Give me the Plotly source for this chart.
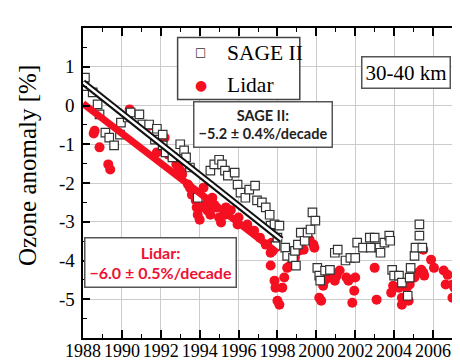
import plotly.graph_objects as go

# ---------------- data ----------------
sage_years = [1988.1, 1988.05, 1988.5, 1988.75, 1988.85, 1989.15, 1989.35, 1989.6, 1989.9, 1989.95,
              1990.3, 1990.45, 1990.9, 1991.05, 1991.4, 1991.7, 1991.8, 1992.1, 1992.1, 1992.25,
              1992.6, 1993.0, 1993.2, 1993.3, 1993.5, 1993.9, 1994.55, 1994.75, 1995.0, 1995.15,
              1995.3, 1995.45, 1995.8, 1995.95, 1996.1, 1996.35, 1996.55, 1996.85, 1996.95, 1997.2,
              1997.4, 1997.6, 1997.65, 1997.85, 1997.9, 1998.0, 1998.1, 1998.4, 1998.5, 1998.8,
              1998.9, 1998.95, 1999.05, 1999.2, 1999.4, 1999.55, 1999.7, 1999.8, 1999.95, 2000.05,
              2000.15, 2000.2, 2000.45, 2000.7, 2000.95, 2001.1, 2001.5, 2001.75, 2002.0, 2002.1,
              2002.4, 2002.75, 2002.8, 2003.0, 2003.25, 2003.3, 2003.5, 2003.75, 2003.8, 2003.9,
              2004.0, 2004.25, 2004.4, 2004.7, 2004.8, 2004.85, 2005.05, 2005.1, 2005.3, 2005.3,
              2005.45]
sage_vals = [0.72, 0.5, 0.34, 0.03, -0.23, -0.7, -0.83, -1.03, -0.75, -0.44,
             -0.31, -0.18, -0.23, -0.49, -0.49, -0.88, -0.6, -0.75, -1.03, -1.21,
             -1.34, -1.0, -1.16, -1.34, -1.6, -2.38, -1.68, -1.52, -1.4, -1.52,
             -1.68, -1.81, -1.73, -2.04, -2.25, -2.38, -2.17, -2.07, -2.45, -2.5,
             -2.63, -2.82, -3.1, -3.07, -3.62, -3.41, -3.1, -3.67, -3.88, -3.93,
             -3.75, -4.13, -3.59, -3.28, -3.49, -3.28, -3.2, -2.76, -2.97, -4.19,
             -4.39, -4.52, -4.26, -4.24, -3.8, -3.72, -4.0, -3.93, -3.93, -3.54,
             -3.67, -3.41, -3.67, -3.41, -3.67, -3.8, -3.54, -3.36, -3.49, -4.24,
             -4.39, -4.39, -4.57, -4.91, -4.44, -4.19, -3.88, -3.67, -3.36, -3.07,
             -3.67]

lidar_years = [1988.6, 1988.55, 1988.85, 1989.3, 1989.4, 1990.4, 1990.45, 1991.4, 1991.8, 1992.2,
               1992.4, 1992.8, 1992.9, 1993.0, 1993.1, 1993.4, 1993.5, 1993.6, 1993.8, 1993.85,
               1993.9, 1994.0, 1994.05, 1994.2, 1994.3, 1994.4, 1994.55, 1994.65, 1994.75, 1994.85,
               1995.0, 1995.1, 1995.3, 1995.35, 1995.6, 1995.95, 1996.0, 1996.45, 1996.8, 1997.1,
               1997.4, 1997.65, 1997.7, 1997.65, 1997.85, 1997.9, 1998.0, 1998.1, 1998.25, 1998.35,
               1998.5, 1998.65, 1998.9, 1999.1, 1999.35, 1999.4, 1999.65, 1999.85, 1999.9, 2000.15,
               2000.25, 2000.35, 2000.45, 2000.65, 2000.7, 2000.9, 2000.95, 2001.05, 2001.2, 2001.55,
               2001.65, 2001.85, 2001.95, 2002.0, 2003.0, 2003.1, 2003.85, 2003.95, 2004.25, 2004.4,
               2004.4, 2004.65, 2004.75, 2004.8, 2005.05, 2005.25, 2005.4, 2005.5, 2005.55, 2005.5,
               2005.9, 2006.05, 2006.55, 2006.75, 2006.65, 2007.0, 2007.1, 2007.0, 2007.4, 2007.55]
lidar_vals = [-0.65, -0.72, -1.08, -1.52, -1.65, -0.1, -0.2, -0.52, -1.21, -0.83,
              -1.27, -1.52, -1.6, -1.68, -1.78, -2.04, -2.12, -2.3, -2.45, -2.63,
              -2.82, -2.95, -2.63, -2.12, -2.56, -2.71, -2.82, -2.38, -2.56, -2.63,
              -2.89, -3.02, -2.82, -2.63, -2.7, -3.07, -2.89, -3.07, -3.23, -3.41,
              -3.59, -3.8, -3.54, -4.13, -4.52, -4.7, -5.04, -5.14, -4.7, -4.44,
              -4.19, -4.13, -3.93, -3.75, -3.72, -3.49, -3.46, -3.59, -3.67, -4.96,
              -5.04, -4.65, -4.5, -4.44, -4.31, -4.37, -4.52, -4.39, -4.26, -4.44,
              -4.52, -5.09, -4.78, -4.44, -4.19, -5.01, -4.83, -4.65, -4.7, -4.96,
              -5.14, -4.7, -5.04, -4.62, -4.44, -4.31, -4.24, -4.31, -4.39, -3.72,
              -3.98, -4.19, -4.26, -4.37, -4.62, -4.62, -4.7, -4.96, -4.44, -4.7]

sage_trend_years = [1988.0, 1998.2]
sage_trend_vals = [0.6, -3.46]
lidar_trend_years = [1988.0, 1998.0]
lidar_trend_vals = [0.05, -3.8]

x_tick_vals = [1988, 1990, 1992, 1994, 1996, 1998, 2000, 2002, 2004, 2006]
x_tick_text = ["1988", "1990", "1992", "1994", "1996", "1998", "2000", "2002", "2004", "2006"]
y_tick_vals = [1, 0, -1, -2, -3, -4, -5]
y_tick_text = ["1", "0", "-1", "-2", "-3", "-4", "-5"]
legend_names = ["SAGE II", "Lidar"]

SERIF = "Liberation Serif, Times New Roman, serif"
SANS = "Lato, Open Sans, sans-serif"
RED = "#f41020"

# pixel -> paper helpers (plot area: x 75.5..460, y 20.6..330)
def px(xp):
    return (xp - 75.5) / 384.5


def py(yp):
    return (330 - yp) / 309.4


fig = go.Figure()

fig.add_trace(go.Scatter(
    x=lidar_years, y=lidar_vals, mode="markers", name=legend_names[1],
    marker=dict(symbol="circle", size=10, color=RED, line=dict(width=0)),
))
fig.add_trace(go.Scatter(
    x=sage_years, y=sage_vals, mode="markers", name=legend_names[0],
    marker=dict(symbol="square", size=8.5, color="white", line=dict(width=1.2, color="#333333")),
))
# trend lines
fig.add_trace(go.Scatter(x=lidar_trend_years, y=lidar_trend_vals, mode="lines",
                         line=dict(color=RED, width=7), hoverinfo="skip"))
fig.add_trace(go.Scatter(x=sage_trend_years, y=sage_trend_vals, mode="lines",
                         line=dict(color="#111111", width=6.5), hoverinfo="skip"))
fig.add_trace(go.Scatter(x=sage_trend_years, y=sage_trend_vals, mode="lines",
                         line=dict(color="white", width=2.5), hoverinfo="skip"))

fig.update_layout(
    width=460, height=362,
    margin=dict(l=75, r=0, t=20, b=32),
    paper_bgcolor="white", plot_bgcolor="white",
    showlegend=False,
    xaxis=dict(
        range=[1988, 2007.8], tickvals=x_tick_vals, ticktext=x_tick_text,
        showgrid=True, gridcolor="#cccccc", gridwidth=1,
        showline=True, linecolor="black", linewidth=2, mirror="ticks",
        ticks="inside", ticklen=8, tickwidth=1.5, tickcolor="black",
        minor=dict(dtick=1, tick0=1988, ticks="inside", ticklen=4, tickwidth=1.2,
                   tickcolor="black", showgrid=False),
        tickfont=dict(family=SERIF, size=18, color="black"),
        ticklabelstandoff=-5, zeroline=False,
    ),
    yaxis=dict(
        range=[-6, 2], tickvals=y_tick_vals,
        showgrid=True, gridcolor="#cccccc", gridwidth=1,
        showline=True, linecolor="black", linewidth=2, mirror=False,
        ticks="inside", ticklen=7, tickwidth=1.5, tickcolor="black",
        minor=dict(dtick=0.5, tick0=0, ticks="inside", ticklen=4, tickwidth=1.2,
                   tickcolor="black", showgrid=False),
        showticklabels=False, zeroline=False,
    ),
)

# y tick labels placed next to the axis
for v, t in zip(y_tick_vals, y_tick_text):
    fig.add_annotation(text=t, xref="paper", yref="y", x=px(70), y=v,
                       xanchor="right", yanchor="middle", showarrow=False,
                       font=dict(family=SERIF, size=19, color="black"))

# legend box (drawn manually)
fig.add_shape(type="rect", xref="paper", yref="paper",
              x0=px(170), x1=px(292), y0=py(92), y1=py(30),
              fillcolor="white", line=dict(color="#444444", width=1.5), layer="above")
fig.add_annotation(text="\u25a1", xref="paper", yref="paper", x=px(193), y=py(45),
                   xanchor="center", yanchor="middle", showarrow=False,
                   font=dict(family="DejaVu Sans", size=12, color="#333333"))
fig.add_annotation(text="\u25cf", xref="paper", yref="paper", x=px(193), y=py(77),
                   xanchor="center", yanchor="middle", showarrow=False,
                   font=dict(family="DejaVu Sans", size=14, color=RED))
fig.add_annotation(text=legend_names[0], xref="paper", yref="paper", x=px(217), y=py(46),
                   xanchor="left", yanchor="middle", showarrow=False,
                   font=dict(family=SERIF, size=21.5, color="black"))
fig.add_annotation(text=legend_names[1], xref="paper", yref="paper", x=px(217), y=py(77),
                   xanchor="left", yanchor="middle", showarrow=False,
                   font=dict(family=SERIF, size=21.5, color="black"))

fig.add_annotation(
    text="Ozone anomaly [%]", textangle=-90, xref="paper", yref="paper",
    x=px(20), y=py(158), xanchor="center", yanchor="middle",
    showarrow=False, font=dict(family=SERIF, size=25, color="black"),
)
fig.add_annotation(
    text="30-40 km", xref="x", yref="y", x=2004.6, y=0.85,
    showarrow=False, font=dict(family=SERIF, size=21, color="black"),
    bgcolor="white", bordercolor="#555555", borderwidth=1.5, borderpad=3,
)
fig.add_annotation(
    text="<b>SAGE II:</b><br><b>\u22125.2 \u00b1 0.4%/decade</b>", xref="x", yref="y",
    x=1997.25, y=-0.5, showarrow=False, align="center",
    font=dict(family=SANS, size=14.5, color="#222222"),
    bgcolor="white", bordercolor="#555555", borderwidth=1.5, borderpad=4,
)
fig.add_annotation(
    text="<b>Lidar:</b><br><b>\u22126.0 \u00b1 0.5%/decade</b>", xref="x", yref="y",
    x=1992.0, y=-4.06, showarrow=False, align="center",
    font=dict(family=SANS, size=16, color="#ee1133"),
    bgcolor="white", bordercolor="#555555", borderwidth=1.5, borderpad=4,
)

fig.write_html("out.html")
